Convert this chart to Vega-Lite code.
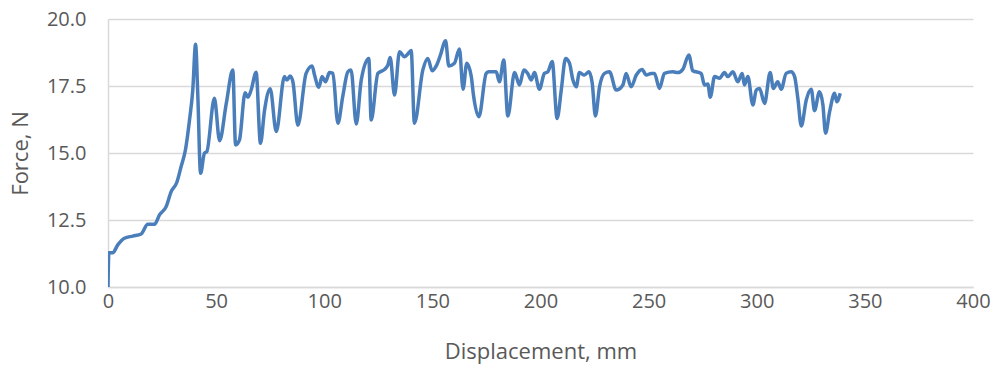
{
  "$schema": "https://vega.github.io/schema/vega-lite/v6.json",
  "autosize": "none",
  "width": 865,
  "height": 268,
  "padding": {"left": 108, "top": 19, "right": 24, "bottom": 86},
  "background": "white",
  "config": {"view": {"stroke": null}, "font": "Open Sans"},
  "data": {"values": [
    {"x": 0, "y": 10.0}, {"x": 0.4, "y": 11.28}, {"x": 2.2, "y": 11.28}, {"x": 4.5, "y": 11.57},
    {"x": 7.6, "y": 11.82}, {"x": 11.5, "y": 11.9}, {"x": 15.3, "y": 11.98}, {"x": 18.4, "y": 12.34},
    {"x": 21.5, "y": 12.34}, {"x": 23.8, "y": 12.69}, {"x": 26.9, "y": 13.0}, {"x": 29.2, "y": 13.56},
    {"x": 31.8, "y": 13.9}, {"x": 33.8, "y": 14.49}, {"x": 35.8, "y": 15.11}, {"x": 37.7, "y": 16.23},
    {"x": 39.2, "y": 17.35}, {"x": 40.5, "y": 19.06}, {"x": 41.5, "y": 17.23}, {"x": 42.8, "y": 14.24},
    {"x": 44.6, "y": 14.99}, {"x": 45.7, "y": 15.05}, {"x": 49.2, "y": 17.04}, {"x": 51.6, "y": 15.46},
    {"x": 54.7, "y": 16.85}, {"x": 57.7, "y": 18.1}, {"x": 59.0, "y": 15.3}, {"x": 60.8, "y": 15.49},
    {"x": 63.4, "y": 17.25}, {"x": 64.7, "y": 17.08}, {"x": 66.2, "y": 17.35}, {"x": 68.5, "y": 18.01},
    {"x": 70.5, "y": 15.36}, {"x": 72.4, "y": 16.6}, {"x": 75.0, "y": 17.4}, {"x": 77.8, "y": 15.8},
    {"x": 81.6, "y": 17.85}, {"x": 82.7, "y": 17.72}, {"x": 84.2, "y": 17.87}, {"x": 85.5, "y": 17.66},
    {"x": 87.8, "y": 16.04}, {"x": 91.6, "y": 17.97}, {"x": 94.4, "y": 18.25}, {"x": 95.5, "y": 17.91},
    {"x": 97.5, "y": 17.45}, {"x": 99.0, "y": 17.85}, {"x": 100.6, "y": 17.66}, {"x": 102.4, "y": 18.0},
    {"x": 104.0, "y": 17.97}, {"x": 106.3, "y": 16.11}, {"x": 108.6, "y": 17.13}, {"x": 110.9, "y": 18.03},
    {"x": 112.4, "y": 18.1}, {"x": 114.8, "y": 16.08}, {"x": 117.1, "y": 17.72}, {"x": 120.6, "y": 18.53},
    {"x": 121.7, "y": 16.23}, {"x": 124.8, "y": 17.97}, {"x": 127.9, "y": 18.12}, {"x": 129.4, "y": 18.28},
    {"x": 130.5, "y": 18.56}, {"x": 132.5, "y": 17.16}, {"x": 134.8, "y": 18.78}, {"x": 137.1, "y": 18.59},
    {"x": 138.6, "y": 18.69}, {"x": 140.2, "y": 18.82}, {"x": 141.7, "y": 16.11}, {"x": 145.6, "y": 18.1},
    {"x": 147.9, "y": 18.53}, {"x": 149.9, "y": 18.07}, {"x": 151.8, "y": 18.25}, {"x": 153.6, "y": 18.62},
    {"x": 156.1, "y": 19.19}, {"x": 157.6, "y": 18.25}, {"x": 160.2, "y": 18.35}, {"x": 162.5, "y": 18.88},
    {"x": 164.2, "y": 17.38}, {"x": 165.9, "y": 18.35}, {"x": 168.0, "y": 17.85}, {"x": 169.0, "y": 17.16},
    {"x": 171.5, "y": 16.35}, {"x": 174.9, "y": 17.97}, {"x": 176.1, "y": 18.03}, {"x": 179.5, "y": 18.03},
    {"x": 181.0, "y": 17.66}, {"x": 183.0, "y": 18.47}, {"x": 184.9, "y": 16.38}, {"x": 188.0, "y": 18.0},
    {"x": 190.3, "y": 17.54}, {"x": 192.3, "y": 18.1}, {"x": 194.1, "y": 17.97}, {"x": 195.7, "y": 17.72},
    {"x": 197.2, "y": 18.0}, {"x": 199.5, "y": 17.38}, {"x": 201.8, "y": 17.97}, {"x": 203.4, "y": 18.03},
    {"x": 205.4, "y": 18.41}, {"x": 207.7, "y": 16.29}, {"x": 209.6, "y": 17.35}, {"x": 211.6, "y": 18.53},
    {"x": 213.4, "y": 18.35}, {"x": 215.0, "y": 17.72}, {"x": 216.5, "y": 17.47}, {"x": 218.0, "y": 18.0},
    {"x": 220.3, "y": 17.91}, {"x": 222.4, "y": 18.03}, {"x": 223.9, "y": 17.62}, {"x": 225.4, "y": 16.38},
    {"x": 227.3, "y": 17.47}, {"x": 229.6, "y": 17.97}, {"x": 231.9, "y": 18.03}, {"x": 235.0, "y": 17.35},
    {"x": 238.1, "y": 17.54}, {"x": 239.6, "y": 17.97}, {"x": 241.9, "y": 17.47}, {"x": 244.3, "y": 17.91},
    {"x": 247.0, "y": 18.12}, {"x": 248.9, "y": 17.91}, {"x": 251.2, "y": 17.97}, {"x": 252.7, "y": 17.97},
    {"x": 255.0, "y": 17.41}, {"x": 257.3, "y": 17.97}, {"x": 261.2, "y": 18.03}, {"x": 263.5, "y": 18.0},
    {"x": 265.8, "y": 18.12}, {"x": 268.6, "y": 18.66}, {"x": 270.4, "y": 18.07}, {"x": 274.3, "y": 17.97},
    {"x": 275.8, "y": 17.54}, {"x": 277.4, "y": 17.57}, {"x": 278.5, "y": 17.08}, {"x": 280.5, "y": 17.85},
    {"x": 282.8, "y": 17.79}, {"x": 285.1, "y": 18.0}, {"x": 286.6, "y": 17.85}, {"x": 289.0, "y": 18.03},
    {"x": 291.2, "y": 17.66}, {"x": 293.3, "y": 17.97}, {"x": 294.3, "y": 17.54}, {"x": 295.9, "y": 17.85},
    {"x": 298.2, "y": 16.79}, {"x": 299.8, "y": 17.35}, {"x": 301.3, "y": 17.41}, {"x": 303.6, "y": 16.85},
    {"x": 306.2, "y": 18.0}, {"x": 307.7, "y": 17.41}, {"x": 309.7, "y": 17.66}, {"x": 311.3, "y": 17.38},
    {"x": 313.6, "y": 17.97}, {"x": 315.9, "y": 18.03}, {"x": 317.5, "y": 17.85}, {"x": 319.0, "y": 17.04},
    {"x": 320.6, "y": 16.01}, {"x": 322.9, "y": 16.98}, {"x": 325.2, "y": 17.38}, {"x": 326.7, "y": 16.58},
    {"x": 329.0, "y": 17.29}, {"x": 330.6, "y": 16.79}, {"x": 331.8, "y": 15.74}, {"x": 333.7, "y": 16.54},
    {"x": 336.0, "y": 17.23}, {"x": 337.0, "y": 16.91}, {"x": 338.6, "y": 17.23}
  ]},
  "layer": [
    {
      "mark": {"type": "line", "color": "#4a7ebb", "strokeWidth": 3.5, "strokeJoin": "round", "interpolate": "monotone", "clip": true},
      "encoding": {
        "x": {
          "field": "x", "type": "quantitative",
          "scale": {"domain": [0, 400], "nice": false, "zero": false},
          "axis": {
            "title": "Displacement, mm", "values": [0, 50, 100, 150, 200, 250, 300, 350, 400],
            "grid": false, "ticks": false, "domain": true, "domainColor": "#d9d9d9", "domainWidth": 1.5,
            "labelFontSize": 20, "labelColor": "#595959", "labelPadding": 4, "labelFlush": false,
            "titleFontSize": 22, "titleFontWeight": "normal", "titleColor": "#595959", "titlePadding": 30
          }
        },
        "y": {
          "field": "y", "type": "quantitative",
          "scale": {"domain": [10, 20], "nice": false, "zero": false},
          "axis": {
            "title": "Force, N", "values": [10, 12.5, 15, 17.5, 20], "format": ".1f",
            "grid": true, "gridColor": "#d9d9d9", "gridWidth": 1.5,
            "ticks": false, "domain": true, "domainColor": "#d9d9d9", "domainWidth": 1.5,
            "labelFontSize": 20, "labelColor": "#595959", "labelPadding": 22,
            "titleFontSize": 22, "titleFontWeight": "normal", "titleColor": "#595959", "titlePadding": 14
          }
        }
      }
    }
  ]
}
